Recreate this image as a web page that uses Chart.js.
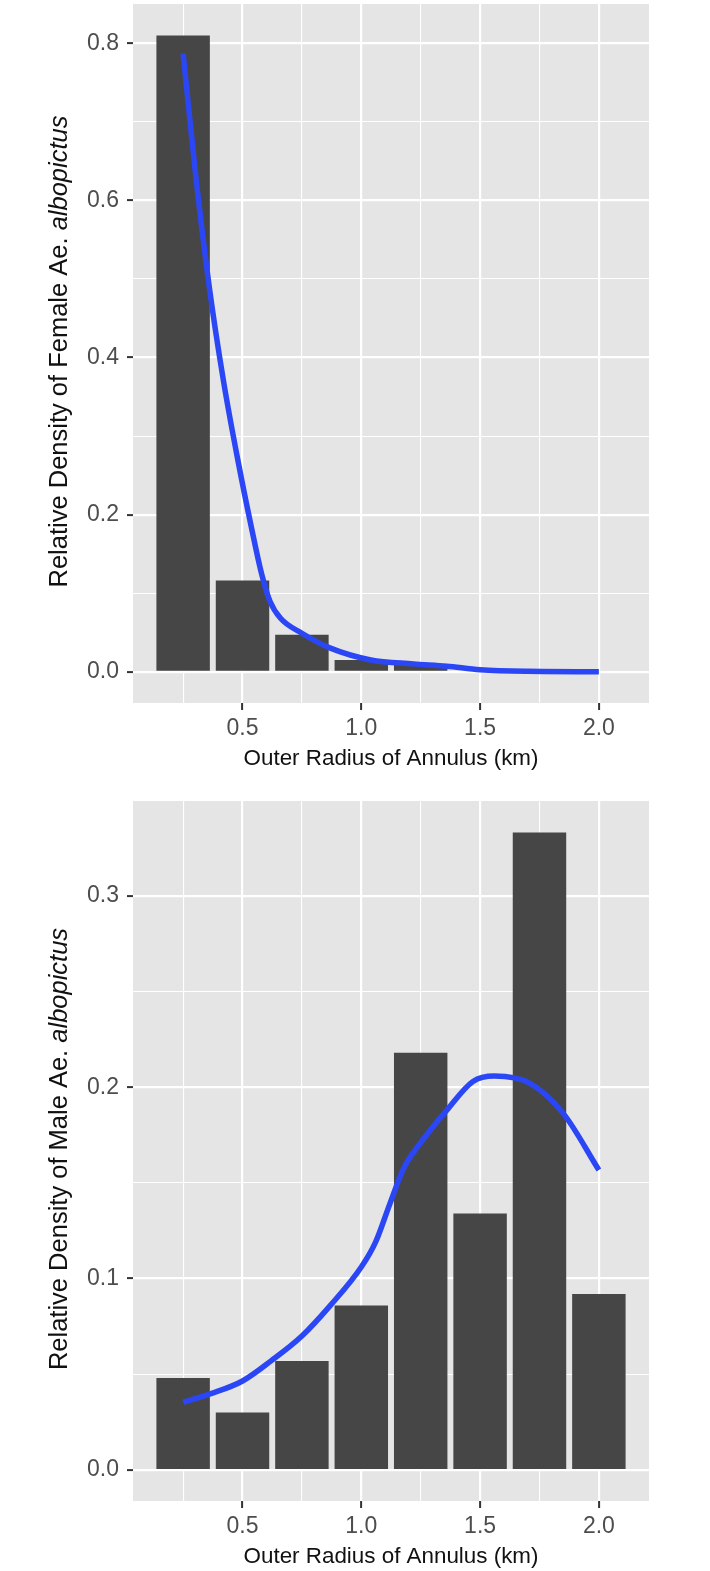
<!DOCTYPE html>
<html>
<head>
<meta charset="utf-8">
<title>Relative density of Ae. albopictus by annulus</title>
<script src="https://cdn.jsdelivr.net/npm/chart.js@4.4.0/dist/chart.umd.min.js"></script>
<style>
  body { margin: 0; background: #fff; }
  canvas { display: block; }
</style>
</head>
<body>
<canvas id="femaleChart" width="710" height="785"></canvas>
<canvas id="maleChart" width="710" height="786"></canvas>
<script>
// outer radius of each annulus (km)
const radii = [0.25, 0.5, 0.75, 1.0, 1.25, 1.5, 1.75, 2.0];
const femaleDensity = [0.810, 0.116, 0.047, 0.015, 0.010, 0, 0, 0];
const maleDensity = [0.048, 0.030, 0.057, 0.086, 0.218, 0.134, 0.333, 0.092];

// smoothed trend
const femaleSmoothX = [0.25, 0.30, 0.36, 0.42, 0.48, 0.54, 0.58, 0.615, 0.66, 0.75, 0.87, 1.04, 1.22, 1.36, 1.5, 1.7, 2.0];
const femaleSmoothY = [0.787, 0.64, 0.49, 0.37, 0.27, 0.18, 0.125, 0.09, 0.068, 0.049, 0.030, 0.015, 0.010, 0.007, 0.0025, 0.0005, 0.0];
const maleSmoothX = [0.25, 0.37, 0.5, 0.62, 0.75, 0.87, 1.0, 1.06, 1.12, 1.18, 1.25, 1.36, 1.47, 1.56, 1.71, 1.85, 2.0];
const maleSmoothY = [0.0354, 0.040, 0.0465, 0.057, 0.070, 0.086, 0.106, 0.119, 0.139, 0.158, 0.171, 0.188, 0.203, 0.2058, 0.202, 0.1863, 0.1567];

// axis ticks (major get labels, minor only grid lines)
const xMajorTicks = [0.5, 1.0, 1.5, 2.0];
const xMinorTicks = [0.25, 0.75, 1.25, 1.75];
const femaleYTicks = [0, 0.2, 0.4, 0.6, 0.8];
const femaleYMinor = [0.1, 0.3, 0.5, 0.7];
const maleYTicks = [0, 0.1, 0.2, 0.3];
const maleYMinor = [0.05, 0.15, 0.25];

const FONT = "'Liberation Sans', Arial, Helvetica, sans-serif";

const panelBg = {
  id: 'panelBg',
  beforeDraw(chart) {
    const {ctx, chartArea: a} = chart;
    ctx.save();
    ctx.fillStyle = '#e5e5e5';
    ctx.fillRect(a.left, a.top, a.right - a.left, a.bottom - a.top);
    ctx.restore();
  }
};

// y title with the species name in italics
const yTitle = {
  id: 'yTitle',
  afterDraw(chart, args, o) {
    const {ctx, chartArea: a} = chart;
    const fonts = o.parts.map(p => (p.italic ? 'italic ' : '') + o.size + 'px ' + FONT);
    const widths = o.parts.map((p, i) => { ctx.font = fonts[i]; return ctx.measureText(p.text).width; });
    const total = widths.reduce((s, w) => s + w, 0);
    ctx.save();
    ctx.translate(o.x, (a.top + a.bottom) / 2 - 2);
    ctx.rotate(-Math.PI / 2);
    ctx.fillStyle = '#111';
    ctx.textBaseline = 'alphabetic';
    ctx.textAlign = 'left';
    let pos = -total / 2;
    o.parts.forEach((p, i) => {
      ctx.font = fonts[i];
      ctx.fillText(p.text, pos, 0);
      pos += widths[i];
    });
    ctx.restore();
  }
};

function isIn(list, v) {
  return list.some(t => Math.abs(t - v) < 1e-6);
}

function drawPanel(id, p) {
  const xTicks = xMajorTicks.concat(xMinorTicks).sort((a, b) => a - b);
  const yTicks = p.yMajor.concat(p.yMinor).sort((a, b) => a - b);
  const gridWidth = major => c => (c.tick && isIn(major, c.tick.value) ? 2.2 : 1.1);
  const tickCol = major => c => (c.tick && isIn(major, c.tick.value) ? '#333333' : 'rgba(0,0,0,0)');

  new Chart(document.getElementById(id), {
    type: 'bar',
    data: {
      datasets: [
        {
          type: 'line',
          data: p.smoothX.map((x, i) => ({x: x, y: p.smoothY[i]})),
          borderColor: '#2b47f5',
          borderWidth: 5.5,
          pointRadius: 0,
          cubicInterpolationMode: 'monotone',
          order: 0
        },
        {
          type: 'bar',
          data: radii.map((x, i) => ({x: x, y: p.bars[i]})),
          backgroundColor: '#464646',
          barPercentage: 0.9,
          categoryPercentage: 1,
          order: 1
        }
      ]
    },
    options: {
      responsive: false,
      animation: false,
      layout: { padding: { left: 0, right: 61, top: p.padTop, bottom: 0 } },
      plugins: {
        legend: { display: false },
        tooltip: { enabled: false },
        yTitle: { parts: p.title, size: 25.5, x: 66.7 }
      },
      scales: {
        x: {
          type: 'linear',
          min: 0.039,
          max: 2.211,
          offset: false,
          afterBuildTicks: s => { s.ticks = xTicks.map(v => ({value: v})); },
          afterFit: s => { s.height = p.xHeight; s.paddingLeft = 0; s.paddingRight = 0; },
          border: { display: false },
          grid: {
            offset: false,
            color: '#ffffff',
            lineWidth: gridWidth(xMajorTicks),
            tickLength: 7,
            tickWidth: 2,
            tickColor: tickCol(xMajorTicks)
          },
          ticks: {
            autoSkip: false,
            maxRotation: 0,
            padding: 5,
            color: '#4d4d4d',
            font: { family: FONT, size: 23 },
            callback: v => (isIn(xMajorTicks, v) ? v.toFixed(1) : '')
          },
          title: {
            display: true,
            text: 'Outer Radius of Annulus (km)',
            color: '#111',
            font: { family: FONT, size: 22.4 },
            padding: { top: 0, bottom: p.titlePad }
          }
        },
        y: {
          type: 'linear',
          min: p.yMin,
          max: p.yMax,
          afterBuildTicks: s => { s.ticks = yTicks.map(v => ({value: v})); },
          afterFit: s => { s.width = 133; s.paddingTop = 0; s.paddingBottom = 0; },
          border: { display: false },
          grid: {
            color: '#ffffff',
            lineWidth: gridWidth(p.yMajor),
            tickLength: 6,
            tickWidth: 2,
            tickColor: tickCol(p.yMajor)
          },
          ticks: {
            autoSkip: false,
            padding: 8,
            color: '#4d4d4d',
            font: { family: FONT, size: 23 },
            callback: v => (isIn(p.yMajor, v) ? v.toFixed(1) : '')
          }
        }
      }
    },
    plugins: [panelBg, yTitle]
  });
}

drawPanel('femaleChart', {
  bars: femaleDensity,
  smoothX: femaleSmoothX,
  smoothY: femaleSmoothY,
  yMajor: femaleYTicks,
  yMinor: femaleYMinor,
  yMin: -0.0398,
  yMax: 0.850,
  padTop: 4,
  xHeight: 82,
  titlePad: 13,
  title: [{text: 'Relative Density of Female Ae. '}, {text: 'albopictus', italic: true}]
});

drawPanel('maleChart', {
  bars: maleDensity,
  smoothX: maleSmoothX,
  smoothY: maleSmoothY,
  yMajor: maleYTicks,
  yMinor: maleYMinor,
  yMin: -0.0162,
  yMax: 0.3495,
  padTop: 16,
  xHeight: 70,
  titlePad: 1,
  title: [{text: 'Relative Density of Male Ae. '}, {text: 'albopictus', italic: true}]
});
</script>
</body>
</html>
